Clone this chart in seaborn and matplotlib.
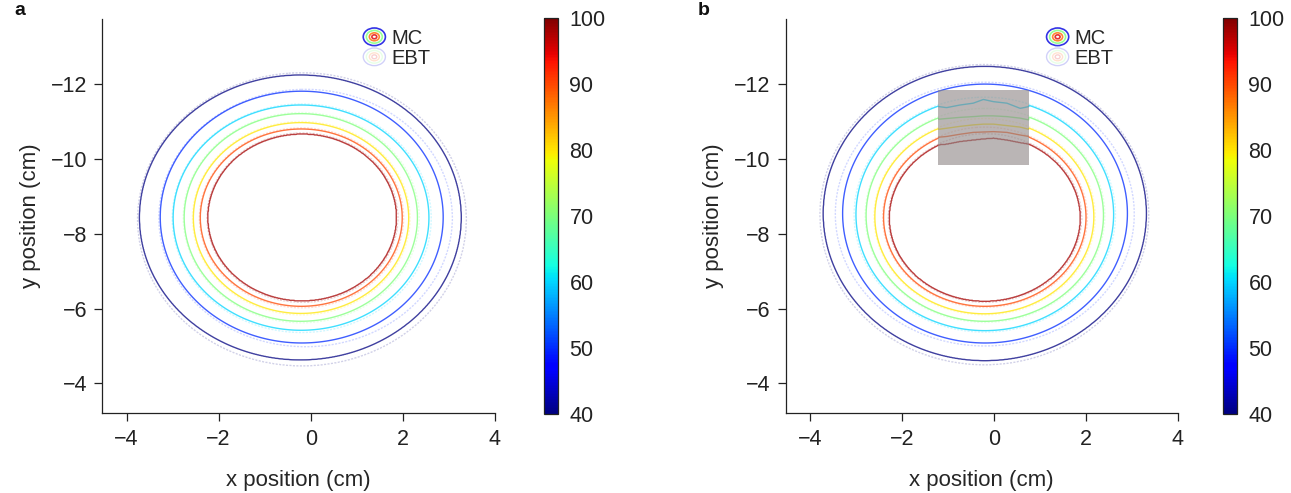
import numpy as np
import matplotlib
matplotlib.use("Agg")
import matplotlib.pyplot as plt
import seaborn as sns
from matplotlib.colors import Normalize
from matplotlib.cm import ScalarMappable
from matplotlib.patches import Ellipse, Rectangle
from matplotlib.legend_handler import HandlerBase
from matplotlib.lines import Line2D

# ---------------- data (isodose levels, % ) ----------------
levels = [40, 50, 60, 70, 80, 90, 98]

# panel a : MC isodose extents (cm)
a_mc_top = [-12.24, -11.81, -11.44, -11.21, -10.97, -10.80, -10.67]
a_mc_bottom = [-4.63, -5.08, -5.42, -5.66, -5.87, -6.06, -6.20]
a_mc_left = [-3.72, -3.27, -2.99, -2.75, -2.55, -2.40, -2.24]
a_mc_right = [3.27, 2.88, 2.57, 2.32, 2.13, 1.99, 1.87]
# panel a : EBT isodose extents (cm)
a_ebt_top = [-12.30, -11.86, -11.47, -11.24, -11.00, -10.83, -10.70]
a_ebt_bottom = [-4.47, -4.98, -5.36, -5.62, -5.83, -6.02, -6.16]
a_ebt_left = [-3.76, -3.30, -3.01, -2.77, -2.57, -2.42, -2.26]
a_ebt_right = [3.38, 3.08, 2.62, 2.36, 2.16, 2.02, 1.90]

# panel b : MC isodose extents (cm)
b_mc_top = [-12.47, -12.00, -11.62, -11.32, -11.05, -10.82, -10.65]
b_mc_bottom = [-4.61, -5.08, -5.41, -5.66, -5.86, -6.06, -6.19]
b_mc_left = [-3.71, -3.29, -3.00, -2.78, -2.59, -2.40, -2.28]
b_mc_right = [3.31, 2.90, 2.60, 2.38, 2.17, 2.00, 1.88]
# panel b : EBT isodose extents (cm)
b_ebt_top = [-12.52, -12.05, -11.65, -11.35, -11.08, -10.85, -10.68]
b_ebt_bottom = [-4.50, -5.00, -5.37, -5.63, -5.83, -6.03, -6.16]
b_ebt_left = [-3.78, -3.45, -3.04, -2.80, -2.61, -2.42, -2.30]
b_ebt_right = [3.36, 3.05, 2.64, 2.41, 2.20, 2.03, 1.91]

# panel b : shaded region and isodose profiles inside it
box_x0, box_x1, box_y0, box_y1 = -1.21, 0.76, -11.84, -9.85
box_x = [-1.21, -1.03, -0.74, -0.45, -0.23, -0.01, 0.28, 0.57, 0.76]
box_60 = [-11.40, -11.37, -11.44, -11.49, -11.59, -11.53, -11.49, -11.35, -11.40]
box_70 = [-11.06, -11.08, -11.11, -11.13, -11.15, -11.15, -11.13, -11.09, -11.04]
box_80 = [-10.79, -10.82, -10.87, -10.91, -10.93, -10.93, -10.89, -10.85, -10.79]
box_90 = [-10.58, -10.60, -10.66, -10.71, -10.72, -10.73, -10.71, -10.64, -10.60]
box_98 = [-10.38, -10.40, -10.47, -10.51, -10.54, -10.56, -10.51, -10.44, -10.40]
box_profiles = [None, None, box_60, box_70, box_80, box_90, box_98]

x_ticks = [-4, -2, 0, 2, 4]
y_ticks = [-12, -10, -8, -6, -4]
cbar_ticks = [40, 50, 60, 70, 80, 90, 100]

# ---------------- helpers ----------------
def dose_field(X, Y, top, bottom, left, right, profiles=None):
    G = []
    for k in range(len(levels)):
        cx = (left[k] + right[k]) / 2.0
        ax_ = (right[k] - left[k]) / 2.0
        cy = (top[k] + bottom[k]) / 2.0
        by = (bottom[k] - top[k]) / 2.0
        Yk = Y
        if profiles is not None and profiles[k] is not None:
            inside = (X >= box_x0) & (X <= box_x1) & (Y >= box_y0) & (Y <= box_y1)
            xr = np.clip((X - cx) / ax_, -1, 1)
            ell_top = cy - by * np.sqrt(1 - xr ** 2)
            target = np.interp(X, box_x, profiles[k])
            Yk = np.where(inside, Y - (target - ell_top), Y)
        G.append(np.sqrt(((X - cx) / ax_) ** 2 + ((Yk - cy) / by) ** 2) - 1.0)
    L = levels
    D = L[0] - 20.0 * G[0]
    for k in range(len(L) - 1):
        m = G[k] < 0
        den = G[k + 1] - G[k]
        den = np.where(den > 1e-9, den, 1e-9)
        t = np.clip(-G[k] / den, 0, 1)
        D = np.where(m, L[k] + t * (L[k + 1] - L[k]), D)
    D = np.where(G[-1] < 0, L[-1] + 2.0 * (-G[-1]), D)
    return D


class IconHandler(HandlerBase):
    def __init__(self, colors, alpha, lw):
        super().__init__()
        self.colors = colors
        self.alpha = alpha
        self.lw = lw

    def create_artists(self, legend, orig_handle, xdescent, ydescent,
                       width, height, fontsize, trans):
        cx = width / 2.0 - xdescent
        cy = height / 2.0 - ydescent
        arts = []
        for c, s in zip(self.colors, [1.0, 0.72, 0.45, 0.22]):
            e = Ellipse((cx, cy), width * s, height * 1.25 * s, fill=False,
                        edgecolor=c, lw=self.lw, alpha=self.alpha, transform=trans)
            arts.append(e)
        return arts


# ---------------- style ----------------
sns.set_theme(style="ticks")
plt.rcParams["font.family"] = ["Liberation Sans", "DejaVu Sans"]
plt.rcParams["axes.unicode_minus"] = True

cmap = matplotlib.colormaps["jet"]
norm = Normalize(40, 100)

W, H = 1291, 493
fig = plt.figure(figsize=(W / 100, H / 100), dpi=100)

xg = np.linspace(-4.6, 4.1, 700)
yg = np.linspace(-13.8, -3.1, 800)
X, Y = np.meshgrid(xg, yg)

panels = [
    dict(x0=102.3, cx0=544, label="a",
         mc=(a_mc_top, a_mc_bottom, a_mc_left, a_mc_right),
         ebt=(a_ebt_top, a_ebt_bottom, a_ebt_left, a_ebt_right), box=False),
    dict(x0=785.6, cx0=1223, label="b",
         mc=(b_mc_top, b_mc_bottom, b_mc_left, b_mc_right),
         ebt=(b_ebt_top, b_ebt_bottom, b_ebt_left, b_ebt_right), box=True),
]

top_px, bot_px = 19, 413.3
for p in panels:
    ax = fig.add_axes([p["x0"] / W, 1 - bot_px / H, 392.4 / W, (bot_px - top_px) / H])
    cax = fig.add_axes([p["cx0"] / W, 1 - 414.3 / H, 14.3 / W, (414.3 - 18) / H])

    D_ebt = dose_field(X, Y, *p["ebt"])
    ax.contour(X, Y, D_ebt, levels=levels, cmap=cmap, norm=norm,
               linewidths=1.0, alpha=0.18, linestyles=[(0, (1.5, 1.0))], zorder=2)
    D_mc = dose_field(X, Y, *p["mc"], profiles=box_profiles if p["box"] else None)
    ax.contour(X, Y, D_mc, levels=levels, cmap=cmap, norm=norm,
               linewidths=1.0, alpha=0.75, zorder=3)
    if p["box"]:
        ax.add_patch(Rectangle((box_x0, box_y0), box_x1 - box_x0, box_y1 - box_y0,
                               facecolor=(0.55, 0.52, 0.52), alpha=0.6,
                               edgecolor="none", zorder=4))

    ax.set_xlim(-4.53, 4.0)
    ax.set_ylim(-3.2, -13.74)
    ax.set_xticks(x_ticks)
    ax.set_yticks(y_ticks)
    ax.set_xlabel("x position (cm)", fontsize=16, labelpad=15)
    ax.set_ylabel("y position (cm)", fontsize=16, labelpad=7)
    ax.tick_params(axis="both", direction="out", length=6, width=0.9,
                   labelsize=15.5, colors="#222222", pad=5)
    for s in ["left", "bottom"]:
        ax.spines[s].set_linewidth(0.9)
        ax.spines[s].set_color("#222222")
    sns.despine(ax=ax)
    ax.set_facecolor("white")

    h_mc = Line2D([], [], label="MC")
    h_ebt = Line2D([], [], label="EBT")
    mc_cols = [cmap(norm(45)), cmap(norm(70)), cmap(norm(88)), cmap(norm(95))]
    ax.legend(handles=[h_mc, h_ebt], loc="upper left", bbox_to_anchor=(0.665, 0.975),
              frameon=False, fontsize=14.5, handlelength=1.1, handleheight=0.7,
              handletextpad=0.3, labelspacing=0.05, borderpad=0, borderaxespad=0,
              handler_map={h_mc: IconHandler(mc_cols, 0.8, 1.2),
                           h_ebt: IconHandler(mc_cols, 0.18, 1.0)})

    cb = fig.colorbar(ScalarMappable(norm=norm, cmap=cmap), cax=cax, ticks=cbar_ticks)
    cb.outline.set_linewidth(0.9)
    cb.outline.set_edgecolor("#222222")
    cax.tick_params(length=2, width=0.6, direction="in", labelsize=15.5,
                    colors="#222222", pad=8)

    fig.text((p["x0"] - 88) / W, 1 - 15 / H, p["label"], fontsize=14,
             fontweight="bold", ha="left", va="baseline", color="#111111")

fig.savefig("out.png", dpi=100, facecolor="white")
